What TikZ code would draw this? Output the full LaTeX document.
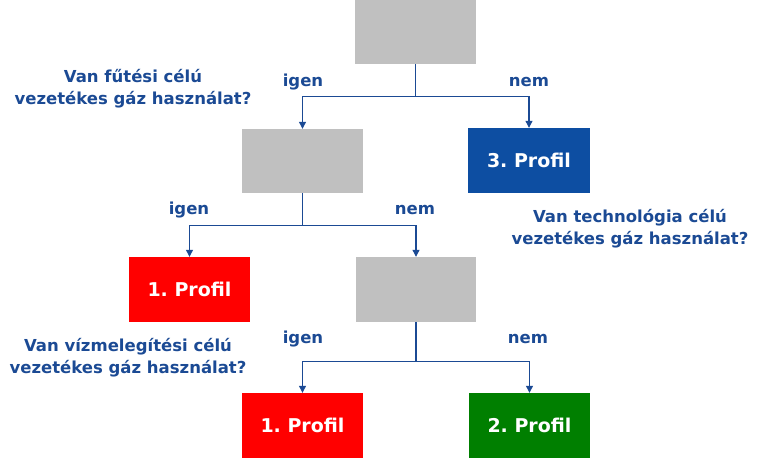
\documentclass[tikz,border=0pt]{standalone}
\usepackage{fontspec}
\setmainfont{DejaVu Sans}
\usetikzlibrary{arrows.meta}
\definecolor{boxgray}{HTML}{C0C0C0}
\definecolor{boxblue}{HTML}{0D4EA2}
\definecolor{boxred}{HTML}{FF0000}
\definecolor{boxgreen}{HTML}{007F00}
\definecolor{txtblue}{HTML}{1B4A94}
\frenchspacing
\tikzset{
  box/.style={rectangle, minimum width=121pt, minimum height=64pt, inner sep=0pt, draw=none,
    text=white, font=\bfseries\fontsize{19}{21}\selectfont},
  graybox/.style={box, fill=boxgray},
  conn/.style={draw=txtblue, line width=1.1pt},
  arr/.style={conn, -{Triangle[width=7pt,length=7pt]}},
  lbl/.style={text=txtblue, font=\bfseries\fontsize{16.5}{18}\selectfont, inner sep=0pt},
  question/.style={text=txtblue, font=\bfseries\fontsize{16.5}{22}\selectfont, align=center, inner sep=0pt}
}
\begin{document}
\begin{tikzpicture}[x=1pt,y=-1pt]
\useasboundingbox (0,0) rectangle (757,458);
\node[graybox] (top) at (415.5,32) {};
\node[graybox] (g2) at (302.5,161) {};
\node[box, fill=boxblue, minimum width=122pt, minimum height=65pt] (p3) at (529,160.5) {3. Profil};
\node[box, fill=boxred, minimum height=65pt] (p1a) at (189.5,289.5) {1. Profil};
\node[graybox, minimum width=120pt, minimum height=65pt] (g3) at (416,289.5) {};
\node[box, fill=boxred, minimum height=65pt] (p1b) at (302.5,425.5) {1. Profil};
\node[box, fill=boxgreen, minimum height=65pt] (p2) at (529.5,425.5) {2. Profil};

\draw[conn] (top.south) -- ++(0,32.5) coordinate (j1);
\draw[arr] (j1) -| (g2.north);
\draw[arr] (j1) -| (p3.north);
\draw[conn] (g2.south) -- ++(0,32) coordinate (j2);
\draw[arr] (j2) -| (p1a.north);
\draw[arr] (j2) -| (g3.north);
\draw[conn] (g3.south) -- ++(0,39) coordinate (j3);
\draw[arr] (j3) -| (p1b.north);
\draw[arr] (j3) -| (p2.north);

\node[lbl] (l1) at (303,82) {igen};
\node[lbl] (l2) at (529,82) {nem};
\node[lbl] (l3) at (189,210) {igen};
\node[lbl] (l4) at (415,210) {nem};
\node[lbl] (l5) at (303,339) {igen};
\node[lbl] (l6) at (528,339) {nem};

\node[question] (q1) at (133,89) {Van fűtési célú\\vezetékes gáz használat?};
\node[question] (q2) at (630,229) {Van technológia célú\\vezetékes gáz használat?};
\node[question] (q3) at (128,358) {Van vízmelegítési célú\\vezetékes gáz használat?};
\end{tikzpicture}
\end{document}
